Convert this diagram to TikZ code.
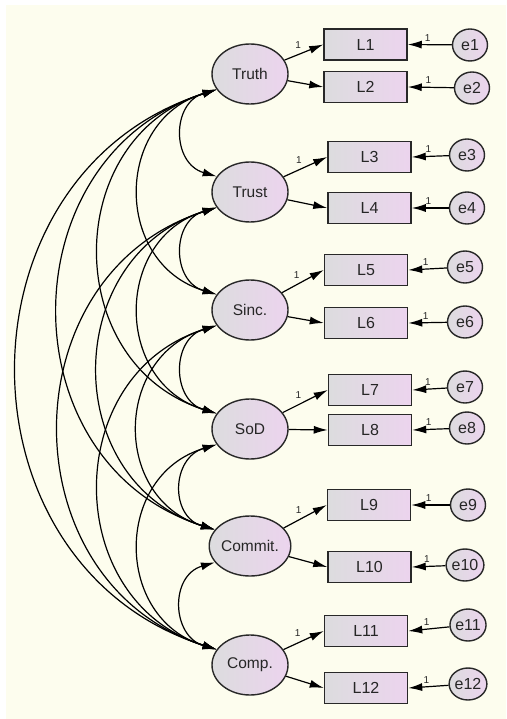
\documentclass[tikz,border=0pt]{standalone}
\usepackage{fontspec}
\setmainfont{Liberation Sans}
\usetikzlibrary{arrows.meta,shapes.geometric,calc}
\definecolor{bgc}{RGB}{253,253,238}
\definecolor{lgray}{RGB}{220,220,222}
\definecolor{lpink}{RGB}{236,212,238}
\definecolor{edgec}{RGB}{40,40,40}
\begin{document}
\begin{tikzpicture}[x=1pt,y=1pt,
  latent/.style={ellipse,draw=edgec,line width=1.4pt,minimum width=76pt,minimum height=60pt,inner sep=0pt,left color=lgray,right color=lpink,font=\fontsize{15.5}{17}\selectfont,text=black!85},
  obs/.style={rectangle,draw=edgec,line width=1.5pt,minimum width=83pt,minimum height=31pt,inner sep=0pt,left color=lgray,right color=lpink,font=\fontsize{16}{18}\selectfont,text=black!85},
  err/.style={ellipse,draw=edgec,line width=1.4pt,minimum width=35pt,minimum height=32pt,inner sep=0pt,left color=lgray,right color=lpink,font=\fontsize{16}{18}\selectfont,text=black!85},
  arr/.style={line width=1.2pt,-{Latex[length=14pt,width=8pt]}},
  cov/.style={line width=1.2pt,{Latex[length=14pt,width=8pt]}-{Latex[length=14pt,width=8pt]}},
  lbl/.style={font=\fontsize{10}{11}\selectfont,inner sep=1pt,text=black!85}
]
\fill[white] (0,0) rectangle (506,-719);
\fill[bgc] (6,-5) rectangle (506,-719);
\useasboundingbox (0,0) rectangle (506,-719);

% latent variables
\node[latent] (lv1) at (250,-74) {Truth};
\node[latent] (lv2) at (250,-192) {Trust};
\node[latent] (lv3) at (250,-310) {Sinc.};
\node[latent] (lv4) at (250,-429) {SoD};
\node[latent] (lv5) at (250,-546) {Commit.};
\node[latent] (lv6) at (250,-665) {Comp.};

% observed variables
\node[obs] (L1) at (365.5,-44.5) {L1};
\node[obs] (L2) at (365.5,-87) {L2};
\node[obs] (L3) at (369.5,-157) {L3};
\node[obs] (L4) at (369.5,-208) {L4};
\node[obs] (L5) at (366,-270) {L5};
\node[obs] (L6) at (366,-323) {L6};
\node[obs] (L7) at (370,-390) {L7};
\node[obs] (L8) at (370,-430) {L8};
\node[obs] (L9) at (369,-505) {L9};
\node[obs] (L10) at (369.5,-567) {L10};
\node[obs] (L11) at (366,-631) {L11};
\node[obs] (L12) at (366,-688) {L12};

% error terms
\node[err] (e1) at (470,-45) {e1};
\node[err] (e2) at (472,-88) {e2};
\node[err] (e3) at (467,-155) {e3};
\node[err] (e4) at (467,-208) {e4};
\node[err] (e5) at (465,-267) {e5};
\node[err] (e6) at (465,-322) {e6};
\node[err] (e7) at (465,-387) {e7};
\node[err] (e8) at (467,-428) {e8};
\node[err] (e9) at (468,-505) {e9};
\node[err] (e10) at (465,-565) {e10};
\node[err] (e11) at (468,-625) {e11};
\node[err] (e12) at (468,-684) {e12};

% loadings
\foreach \k/\a/\b in {1/1/2,2/3/4,3/5/6,4/7/8,5/9/10,6/11/12}{
  \draw[arr] (lv\k) -- (L\a.west) node[lbl,pos=0.35,above=5pt] {1};
  \draw[arr] (lv\k) -- (L\b.west);
}

% error paths
\foreach \n in {1,...,12}{
  \draw[arr] (e\n) -- (L\n.east) node[lbl,pos=0.55,above=2pt] {1};
}

% covariances
\foreach \i in {1,...,5}{
  \pgfmathtruncatemacro\jstart{\i+1}
  \foreach \j in {\jstart,...,6}{
    \pgfmathsetmacro\cc{{171.7,114,61,7.7,-48.3}[\j-\i-1]}
    \pgfmathsetmacro\off{0.15*(118*(\j-\i)-30)}
    \draw[cov] (lv\i.205) .. controls ($(lv\i.205)+(\cc-217,-\off)$) and ($(lv\j.155)+(\cc-217,\off)$) .. (lv\j.155);
  }
}
\end{tikzpicture}
\end{document}
